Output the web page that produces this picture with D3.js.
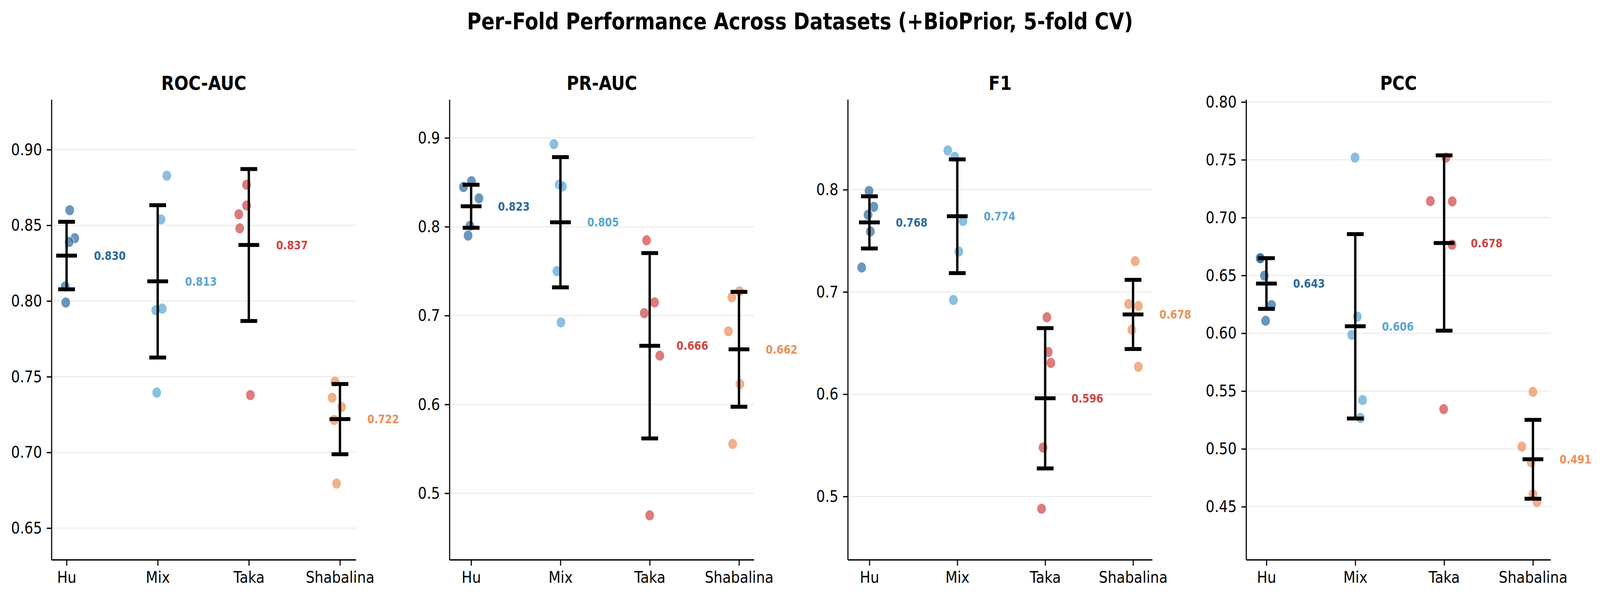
<!DOCTYPE html>
<html>
<head>
<meta charset="utf-8">
<script src="https://cdn.jsdelivr.net/npm/d3@7"></script>
<style>
    html, body { margin: 0; padding: 0; background: #fff; overflow: hidden; }
    svg { display: block; width: 100vw; height: 100vh; font-family: "DejaVu Sans", sans-serif; }
</style>
</head>
<body>
<svg id="chart"></svg>
<script>
// Per-fold values
const datasets = ["Hu", "Mix", "Taka", "Shabalina"];
const metrics = ["ROC-AUC", "PR-AUC", "F1", "PCC"];

const rocAuc = [
    [0.860, 0.8415, 0.839, 0.8096, 0.799],
    [0.8828, 0.8539, 0.7939, 0.795, 0.7395],
    [0.8768, 0.8631, 0.8573, 0.848, 0.7379],
    [0.7468, 0.7361, 0.730, 0.7214, 0.6794]
];
const prAuc = [
    [0.8512, 0.8447, 0.8319, 0.8009, 0.790],
    [0.893, 0.8473, 0.8453, 0.750, 0.6923],
    [0.7847, 0.7148, 0.7027, 0.6549, 0.4751],
    [0.7272, 0.7205, 0.6824, 0.623, 0.5555]
];
const f1 = [
    [0.7987, 0.7832, 0.7755, 0.7591, 0.7239],
    [0.8383, 0.8321, 0.7694, 0.7395, 0.6921],
    [0.6752, 0.6413, 0.6306, 0.5479, 0.488],
    [0.7301, 0.6882, 0.6863, 0.6631, 0.6268]
];
const pcc = [
    [0.6652, 0.6648, 0.6498, 0.6244, 0.6108],
    [0.7519, 0.6144, 0.5986, 0.5422, 0.5268],
    [0.7519, 0.7143, 0.714, 0.6765, 0.5344],
    [0.5493, 0.5019, 0.4884, 0.4608, 0.454]
];

// mean and std (shown as labels / error bars)
const rocMeans = [0.830, 0.813, 0.837, 0.722];
const rocSds = [0.0223, 0.0503, 0.0502, 0.0232];
const prMeans = [0.823, 0.805, 0.666, 0.662];
const prSds = [0.0242, 0.0733, 0.1043, 0.0647];
const f1Means = [0.768, 0.774, 0.596, 0.678];
const f1Sds = [0.0255, 0.0556, 0.0686, 0.0338];
const pccMeans = [0.643, 0.606, 0.678, 0.491];
const pccSds = [0.0219, 0.0797, 0.0758, 0.0341];

// horizontal jitter of each fold, in category units
const rocJitter = [
    [0.034, 0.09, 0.028, -0.015, -0.009],
    [0.10, 0.037, -0.022, 0.05, -0.011],
    [-0.025, -0.025, -0.11, -0.10, 0.017],
    [-0.055, -0.085, 0.018, -0.063, -0.037]
];
const prJitter = [
    [0.004, -0.086, 0.088, -0.013, -0.034],
    [-0.073, -0.014, 0.023, -0.04, 0.006],
    [-0.035, 0.055, -0.061, 0.113, 0],
    [0.006, -0.081, -0.118, 0.011, -0.071]
];
const f1Jitter = [
    [-0.004, 0.05, -0.015, 0.011, -0.088],
    [-0.108, -0.029, 0.065, 0.018, -0.044],
    [0.02, 0.035, 0.065, -0.024, -0.041],
    [0.024, -0.05, 0.061, -0.014, 0.06]
];
const pccJitter = [
    [-0.075, -0.068, -0.023, 0.057, -0.009],
    [-0.003, 0.023, -0.04, 0.082, 0.059],
    [0.021, -0.155, 0.092, 0.089, -0.005],
    [0, -0.125, -0.02, 0, 0.045]
];

const yTicks = [
    [0.65, 0.70, 0.75, 0.80, 0.85, 0.90],
    [0.5, 0.6, 0.7, 0.8, 0.9],
    [0.5, 0.6, 0.7, 0.8],
    [0.45, 0.50, 0.55, 0.60, 0.65, 0.70, 0.75, 0.80]
];
const yFormats = [".2f", ".1f", ".1f", ".2f"];
const yDomains = [[0.629, 0.933], [0.425, 0.943], [0.438, 0.888], [0.404, 0.802]];
const xDomains = [[-0.164, 3.177], [-0.241, 3.169], [-0.244, 3.22], [-0.227, 3.20]];

const colors = ["#2b6a9e", "#5aa5d4", "#d04545", "#eb9058"];

const panels = [
    { values: rocAuc, means: rocMeans, sds: rocSds, jitter: rocJitter },
    { values: prAuc, means: prMeans, sds: prSds, jitter: prJitter },
    { values: f1, means: f1Means, sds: f1Sds, jitter: f1Jitter },
    { values: pcc, means: pccMeans, sds: pccSds, jitter: pccJitter }
];

const width = 4772, height = 1530;
const panelLeft = [154, 1341, 2529, 3717];
const panelWidth = 908;
const plotTop = 255, plotBottom = 1432.5;

// drawing coordinates are the reference's pixels; the viewBox maps them onto the whole window
const svg = d3.select("#chart")
    .attr("viewBox", [0, 0, width, height])
    .attr("preserveAspectRatio", "none");

svg.append("text")
    .attr("x", width / 2)
    .attr("y", 75)
    .attr("text-anchor", "middle")
    .attr("font-size", 58.3)
    .attr("font-weight", "bold")
    .text("Per-Fold Performance Across Datasets (+BioPrior, 5-fold CV)");

panels.forEach((p, k) => drawPanel(p, k));

function drawPanel(p, k) {
    const x0 = panelLeft[k];
    const x = d3.scaleLinear().domain(xDomains[k]).range([x0, x0 + panelWidth]);
    const y = d3.scaleLinear().domain(yDomains[k]).range([plotBottom, plotTop]);

    const g = svg.append("g");

    // grid
    g.append("g")
        .selectAll("line")
        .data(yTicks[k])
        .join("line")
        .attr("x1", x0)
        .attr("x2", x0 + panelWidth)
        .attr("y1", d => y(d))
        .attr("y2", d => y(d))
        .attr("stroke", "#ececec")
        .attr("stroke-width", 2.8);

    // title
    g.append("text")
        .attr("x", x0 + panelWidth / 2)
        .attr("y", 230)
        .attr("text-anchor", "middle")
        .attr("font-size", 50)
        .attr("font-weight", "bold")
        .text(metrics[k]);

    // axes
    const yAxis = d3.axisLeft(y)
        .tickValues(yTicks[k])
        .tickFormat(d3.format(yFormats[k]))
        .tickSize(14.6)
        .tickPadding(14);
    const yG = g.append("g")
        .attr("transform", `translate(${x0},0)`)
        .call(yAxis);

    const xAxis = d3.axisBottom(x)
        .tickValues(d3.range(datasets.length))
        .tickFormat(i => datasets[i])
        .tickSize(14.6)
        .tickPadding(14);
    const xG = g.append("g")
        .attr("transform", `translate(0,${plotBottom})`)
        .call(xAxis);

    [yG, xG].forEach(a => {
        a.select(".domain").attr("stroke", "#000").attr("stroke-width", 3.3);
        a.selectAll(".tick line").attr("stroke", "#000").attr("stroke-width", 3.3);
        a.selectAll(".tick text")
            .attr("font-size", 41.6)
            .attr("font-family", "DejaVu Sans")
            .attr("fill", "#000");
    });
    // axis lines without the outer ticks
    yG.select(".domain").attr("d", `M0,${plotTop}V${plotBottom}`);
    xG.select(".domain").attr("d", `M${x0},0H${x0 + panelWidth}`);

    // fold points
    const pts = [];
    p.values.forEach((vals, i) => {
        vals.forEach((v, j) => pts.push({ i: i, v: v, dx: p.jitter[i][j] }));
    });
    g.append("g")
        .selectAll("circle")
        .data(pts)
        .join("circle")
        .attr("cx", d => x(d.i + d.dx))
        .attr("cy", d => y(d.v))
        .attr("r", 14)
        .attr("fill", d => colors[d.i])
        .attr("stroke", "#fff")
        .attr("stroke-width", 2)
        .attr("opacity", 0.7);

    // mean +/- std
    const stats = datasets.map((name, i) => ({ i: i, m: p.means[i], sd: p.sds[i] }));
    const eb = g.append("g")
        .selectAll("g")
        .data(stats)
        .join("g");

    eb.append("line")
        .attr("x1", d => x(d.i))
        .attr("x2", d => x(d.i))
        .attr("y1", d => y(d.m - d.sd))
        .attr("y2", d => y(d.m + d.sd))
        .attr("stroke", "#000")
        .attr("stroke-width", 7);

    [-1, 1].forEach(s => {
        eb.append("line")
            .attr("x1", d => x(d.i) - 25)
            .attr("x2", d => x(d.i) + 25)
            .attr("y1", d => y(d.m + s * d.sd))
            .attr("y2", d => y(d.m + s * d.sd))
            .attr("stroke", "#000")
            .attr("stroke-width", 10);
    });

    eb.append("line")
        .attr("x1", d => x(d.i) - 31)
        .attr("x2", d => x(d.i) + 31)
        .attr("y1", d => y(d.m))
        .attr("y2", d => y(d.m))
        .attr("stroke", "#000")
        .attr("stroke-width", 10);

    eb.append("text")
        .attr("x", d => x(d.i + 0.3))
        .attr("y", d => y(d.m))
        .attr("dy", "0.36em")
        .attr("font-size", 30)
        .attr("font-weight", "bold")
        .attr("fill", d => colors[d.i])
        .text(d => d3.format(".3f")(d.m));
}
</script>
</body>
</html>
